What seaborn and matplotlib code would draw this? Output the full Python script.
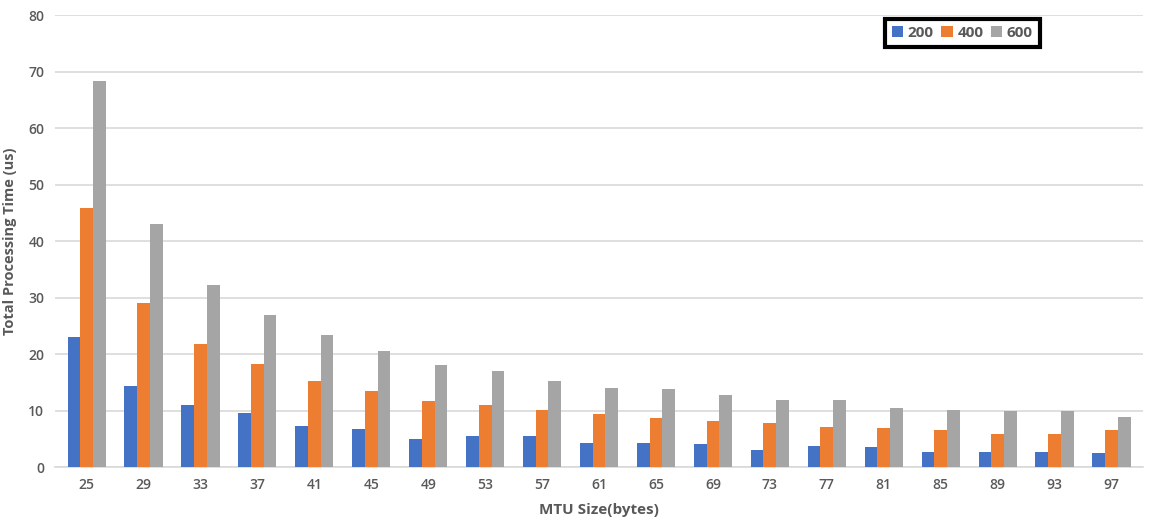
import pandas as pd
import matplotlib
matplotlib.use("Agg")
import matplotlib.pyplot as plt
import seaborn as sns

# MTU sizes on the x axis
mtu_sizes = ["25", "29", "33", "37", "41", "45", "49", "53", "57", "61",
             "65", "69", "73", "77", "81", "85", "89", "93", "97"]

# processing time (us) per series
time_200 = [23.0, 14.4, 11.0, 9.5, 7.3, 6.7, 5.0, 5.5, 5.5, 4.3,
            4.3, 4.1, 3.1, 3.7, 3.5, 2.7, 2.7, 2.7, 2.4]
time_400 = [45.8, 29.0, 21.7, 18.3, 15.3, 13.4, 11.6, 11.0, 10.1, 9.3,
            8.7, 8.2, 7.8, 7.1, 6.9, 6.5, 5.9, 5.9, 6.5]
time_600 = [68.3, 43.1, 32.2, 26.9, 23.3, 20.5, 18.1, 17.0, 15.3, 14.0,
            13.8, 12.7, 11.9, 11.9, 10.4, 10.1, 9.9, 9.9, 8.9]
series_names = ["200", "400", "600"]

# long-form table for seaborn
rows = []
for name, vals in zip(series_names, [time_200, time_400, time_600]):
    for mtu, v in zip(mtu_sizes, vals):
        rows.append({"MTU": mtu, "Series": name, "Time": v})
df = pd.DataFrame(rows)

sns.set_theme(style="white")
plt.rcParams["font.family"] = ["Open Sans", "DejaVu Sans"]

fig = plt.figure(figsize=(11.52, 5.28), dpi=100)
ax = fig.add_axes([0.048, 0.1155, 0.944, 0.856])

palette = {"200": "#4472C4", "400": "#ED7D31", "600": "#A5A5A5"}
sns.barplot(data=df, x="MTU", y="Time", hue="Series", order=mtu_sizes,
            hue_order=series_names, palette=palette, width=0.67,
            saturation=1, linewidth=0, ax=ax, zorder=3)

ax.set_ylim(0, 80)
ax.set_yticks(range(0, 81, 10))
ax.set_xlim(-0.55, len(mtu_sizes) - 0.45)
ax.yaxis.grid(True, color="#D9D9D9", linewidth=1.2, zorder=0)
ax.set_axisbelow(True)
for side in ["top", "right", "left"]:
    ax.spines[side].set_visible(False)
ax.spines["bottom"].set_color("#D9D9D9")
ax.spines["bottom"].set_linewidth(1.2)

ax.tick_params(axis="both", length=0, labelsize=10, labelcolor="#595959", pad=8)
for lbl in ax.get_xticklabels() + ax.get_yticklabels():
    lbl.set_fontweight("semibold")

ax.set_xlabel("MTU Size(bytes)", fontsize=11, fontweight="bold", color="#595959", labelpad=8)
ax.set_ylabel("Total Processing Time (us)", fontsize=10.5, fontweight="bold", color="#595959", labelpad=8)

leg = ax.legend(loc="center", bbox_to_anchor=(0.834, 0.96), ncol=3,
                frameon=True, fancybox=False, handlelength=0.75, handleheight=0.75,
                handletextpad=0.3, columnspacing=0.5, borderpad=0.45,
                prop={"size": 11, "weight": "bold"})
leg.get_frame().set_edgecolor("black")
leg.get_frame().set_linewidth(3)
leg.get_frame().set_alpha(1)
for t in leg.get_texts():
    t.set_color("#595959")

fig.savefig("out.png", dpi=100)
